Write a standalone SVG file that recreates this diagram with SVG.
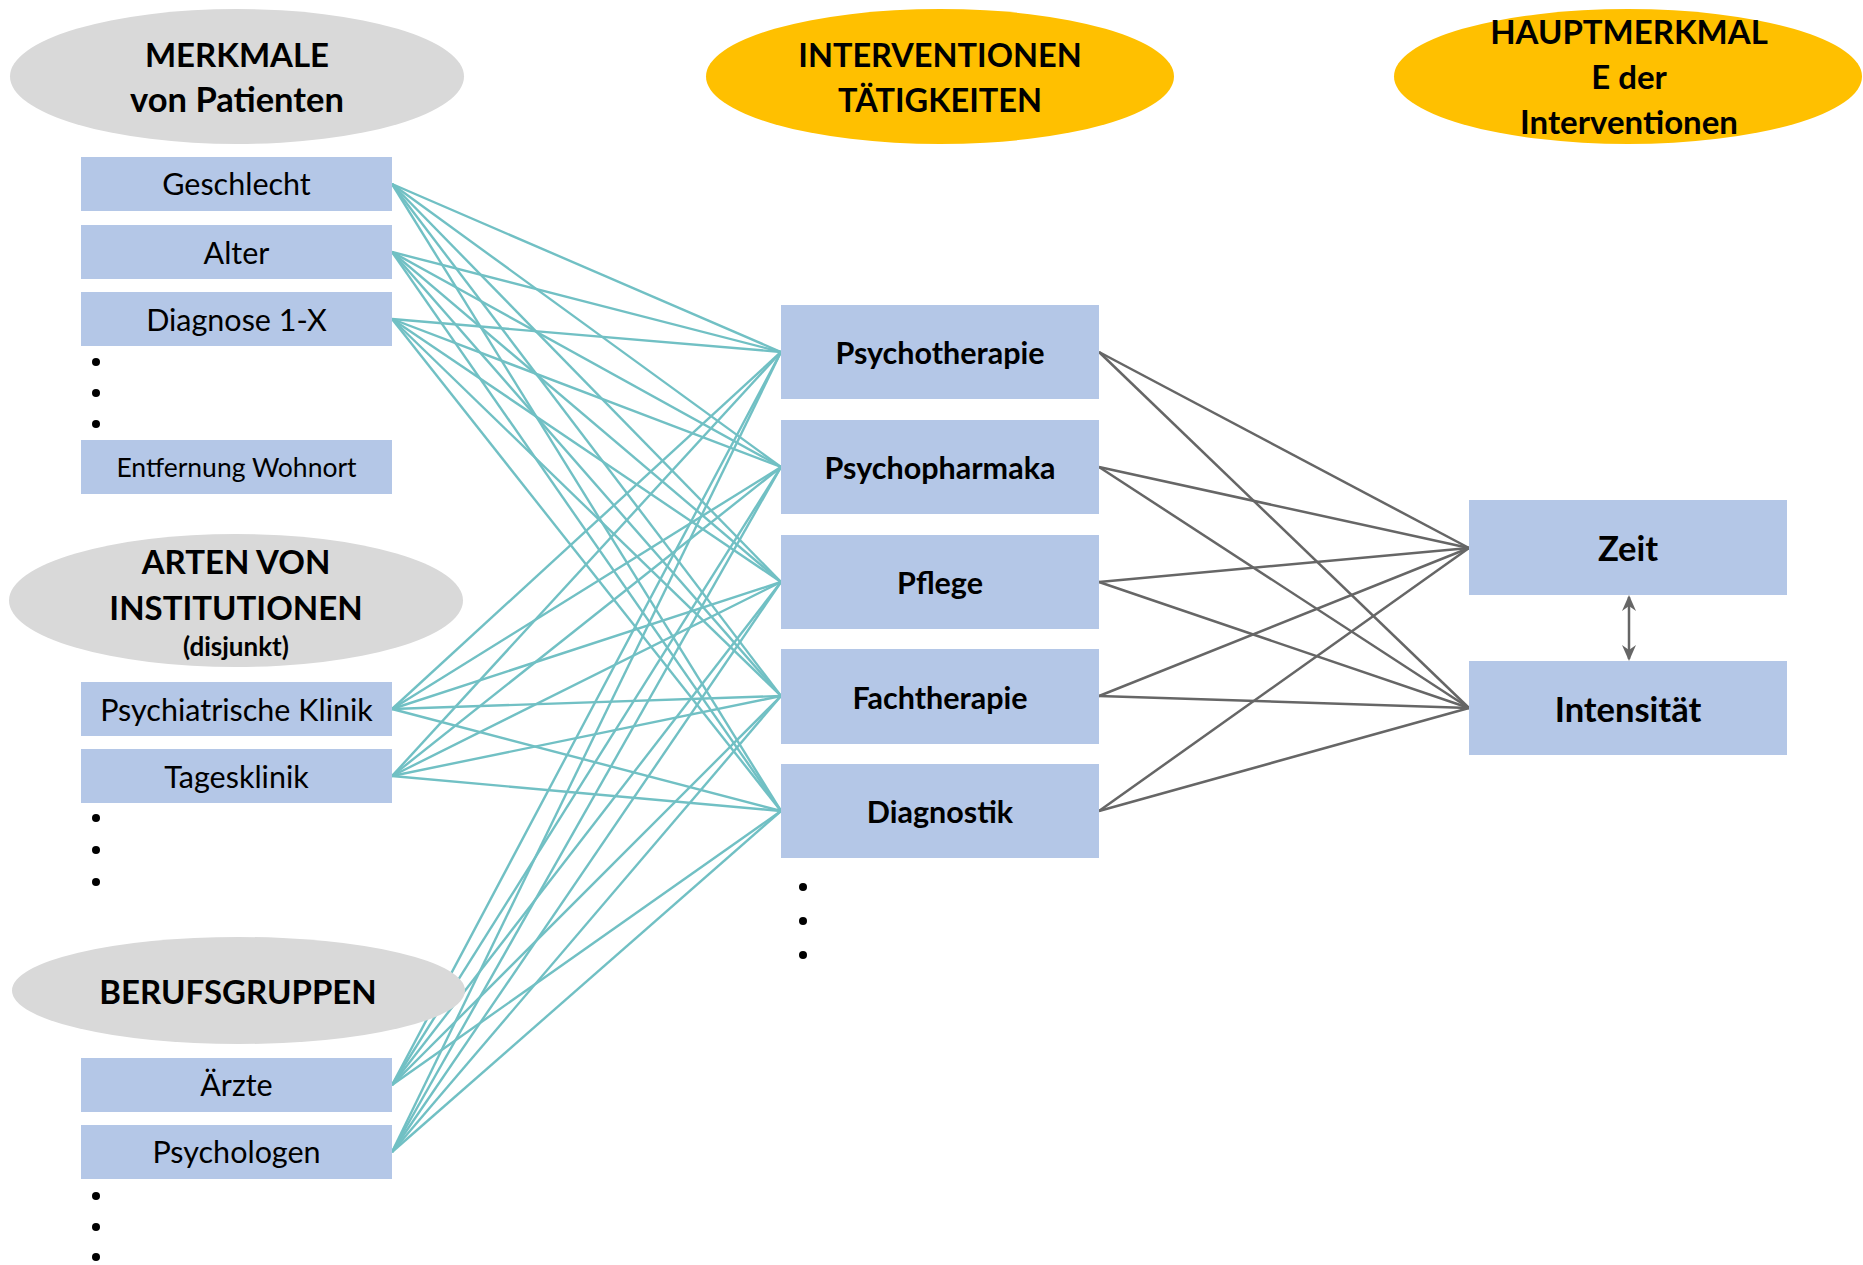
<svg xmlns="http://www.w3.org/2000/svg" width="1863" height="1265" viewBox="0 0 1863 1265">
  <defs>
    <style>
      .head-grey { fill: #D9D9D9; }
      .head-gold { fill: #FFC000; }
      .box { fill: #B4C7E7; }
      .hd { font-family: Lato, "Open Sans", sans-serif; font-weight: bold; font-size: 33px; fill: #000; text-anchor: middle; }
      .lbl { font-family: Lato, "Open Sans", sans-serif; font-size: 30.5px; fill: #000; text-anchor: middle; }
      .mid { font-family: Lato, "Open Sans", sans-serif; font-weight: bold; font-size: 30.5px; fill: #000; text-anchor: middle; }
      .big { font-family: Lato, "Open Sans", sans-serif; font-weight: bold; font-size: 34.5px; fill: #000; text-anchor: middle; }
      .dot { fill: #000; }
      .teal line { stroke: #71C0C4; stroke-width: 2.4; }
      .grey line { stroke: #666666; stroke-width: 2.5; }
    </style>
    <marker id="tip" viewBox="0 0 16 16" refX="14" refY="8" markerWidth="16" markerHeight="16" markerUnits="userSpaceOnUse" orient="auto-start-reverse">
      <path d="M0,1 L16,8 L0,15 L5,8 z" fill="#666666"/>
    </marker>
  </defs>
  <rect width="1863" height="1265" fill="#FFFFFF"/>

  <!-- connectors -->
  <g id="connectors">
    <g class="teal">
      <!-- Geschlecht -->
      <line x1="392" y1="184" x2="781" y2="352"/>
      <line x1="392" y1="184" x2="781" y2="467"/>
      <line x1="392" y1="184" x2="781" y2="582"/>
      <line x1="392" y1="184" x2="781" y2="696"/>
      <line x1="392" y1="184" x2="781" y2="811"/>
      <!-- Alter -->
      <line x1="392" y1="252" x2="781" y2="352"/>
      <line x1="392" y1="252" x2="781" y2="467"/>
      <line x1="392" y1="252" x2="781" y2="582"/>
      <line x1="392" y1="252" x2="781" y2="696"/>
      <line x1="392" y1="252" x2="781" y2="811"/>
      <!-- Diagnose 1-X -->
      <line x1="392" y1="319" x2="781" y2="352"/>
      <line x1="392" y1="319" x2="781" y2="467"/>
      <line x1="392" y1="319" x2="781" y2="582"/>
      <line x1="392" y1="319" x2="781" y2="696"/>
      <line x1="392" y1="319" x2="781" y2="811"/>
      <!-- Psychiatrische Klinik -->
      <line x1="392" y1="709" x2="781" y2="352"/>
      <line x1="392" y1="709" x2="781" y2="467"/>
      <line x1="392" y1="709" x2="781" y2="582"/>
      <line x1="392" y1="709" x2="781" y2="696"/>
      <line x1="392" y1="709" x2="781" y2="811"/>
      <!-- Tagesklinik -->
      <line x1="392" y1="776" x2="781" y2="352"/>
      <line x1="392" y1="776" x2="781" y2="467"/>
      <line x1="392" y1="776" x2="781" y2="582"/>
      <line x1="392" y1="776" x2="781" y2="696"/>
      <line x1="392" y1="776" x2="781" y2="811"/>
      <!-- Ärzte -->
      <line x1="392" y1="1085" x2="781" y2="352"/>
      <line x1="392" y1="1085" x2="781" y2="467"/>
      <line x1="392" y1="1085" x2="781" y2="582"/>
      <line x1="392" y1="1085" x2="781" y2="696"/>
      <line x1="392" y1="1085" x2="781" y2="811"/>
      <!-- Psychologen -->
      <line x1="392" y1="1152" x2="781" y2="352"/>
      <line x1="392" y1="1152" x2="781" y2="467"/>
      <line x1="392" y1="1152" x2="781" y2="582"/>
      <line x1="392" y1="1152" x2="781" y2="696"/>
      <line x1="392" y1="1152" x2="781" y2="811"/>
    </g>
    <g class="grey">
      <line x1="1099" y1="352" x2="1469" y2="548"/>
      <line x1="1099" y1="352" x2="1469" y2="708"/>
      <line x1="1099" y1="467" x2="1469" y2="548"/>
      <line x1="1099" y1="467" x2="1469" y2="708"/>
      <line x1="1099" y1="582" x2="1469" y2="548"/>
      <line x1="1099" y1="582" x2="1469" y2="708"/>
      <line x1="1099" y1="696" x2="1469" y2="548"/>
      <line x1="1099" y1="696" x2="1469" y2="708"/>
      <line x1="1099" y1="811" x2="1469" y2="548"/>
      <line x1="1099" y1="811" x2="1469" y2="708"/>
      <line x1="1629" y1="597" x2="1629" y2="659" marker-start="url(#tip)" marker-end="url(#tip)"/>
    </g>
  </g>

  <!-- column headers -->
  <g id="hdr-merkmale">
    <ellipse class="head-grey" cx="237" cy="76.5" rx="227" ry="67.5"/>
    <text class="hd" x="237" y="67">MERKMALE</text>
    <text class="hd" x="237" y="112" style="font-size:34.5px">von Patienten</text>
  </g>
  <g id="hdr-interventionen">
    <ellipse class="head-gold" cx="940" cy="76.5" rx="234" ry="67.5"/>
    <text class="hd" x="940" y="67" style="font-size:32.5px">INTERVENTIONEN</text>
    <text class="hd" x="940" y="112" style="font-size:32.5px">TÄTIGKEITEN</text>
  </g>
  <g id="hdr-hauptmerkmale">
    <ellipse class="head-gold" cx="1628" cy="76.5" rx="234" ry="67.5"/>
    <text class="hd" x="1629" y="44">HAUPTMERKMAL</text>
    <text class="hd" x="1629" y="89">E der</text>
    <text class="hd" x="1629" y="134">Interventionen</text>
  </g>
  <g id="hdr-institutionen">
    <ellipse class="head-grey" cx="236" cy="600.5" rx="227" ry="66.5"/>
    <text class="hd" x="236" y="574">ARTEN VON</text>
    <text class="hd" x="236" y="620">INSTITUTIONEN</text>
    <text class="hd" x="236" y="656" style="font-size:26px">(disjunkt)</text>
  </g>
  <g id="hdr-berufsgruppen">
    <ellipse class="head-grey" cx="238.5" cy="990.5" rx="226.5" ry="53.5"/>
    <text class="hd" x="238" y="1004">BERUFSGRUPPEN</text>
  </g>

  <!-- patient characteristics -->
  <g id="geschlecht"><rect class="box" x="81" y="157" width="311" height="54"/><text class="lbl" x="236.5" y="195">Geschlecht</text></g>
  <g id="alter"><rect class="box" x="81" y="225" width="311" height="54"/><text class="lbl" x="236.5" y="264">Alter</text></g>
  <g id="diagnose"><rect class="box" x="81" y="292" width="311" height="54"/><text class="lbl" x="236.5" y="331">Diagnose 1-X</text></g>
  <g id="entfernung"><rect class="box" x="81" y="440" width="311" height="54"/><text class="lbl" x="236.5" y="477" style="font-size:26.5px">Entfernung Wohnort</text></g>

  <!-- institution types -->
  <g id="psych-klinik"><rect class="box" x="81" y="682" width="311" height="54"/><text class="lbl" x="236.5" y="721">Psychiatrische Klinik</text></g>
  <g id="tagesklinik"><rect class="box" x="81" y="749" width="311" height="54"/><text class="lbl" x="236.5" y="788">Tagesklinik</text></g>

  <!-- professional groups -->
  <g id="aerzte"><rect class="box" x="81" y="1058" width="311" height="54"/><text class="lbl" x="236.5" y="1096">Ärzte</text></g>
  <g id="psychologen"><rect class="box" x="81" y="1125" width="311" height="54"/><text class="lbl" x="236.5" y="1163">Psychologen</text></g>

  <!-- interventions -->
  <g id="psychotherapie"><rect class="box" x="781" y="305" width="318" height="94"/><text class="mid" x="940" y="364">Psychotherapie</text></g>
  <g id="psychopharmaka"><rect class="box" x="781" y="420" width="318" height="94"/><text class="mid" x="940" y="479">Psychopharmaka</text></g>
  <g id="pflege"><rect class="box" x="781" y="535" width="318" height="94"/><text class="mid" x="940" y="594">Pflege</text></g>
  <g id="fachtherapie"><rect class="box" x="781" y="649" width="318" height="95"/><text class="mid" x="940" y="709">Fachtherapie</text></g>
  <g id="diagnostik"><rect class="box" x="781" y="764" width="318" height="94"/><text class="mid" x="940" y="823">Diagnostik</text></g>

  <!-- main characteristics -->
  <g id="zeit"><rect class="box" x="1469" y="500" width="318" height="95"/><text class="big" x="1628" y="561">Zeit</text></g>
  <g id="intensitaet"><rect class="box" x="1469" y="661" width="318" height="94"/><text class="big" x="1628" y="722">Intensität</text></g>

  <!-- continuation dots -->
  <g id="more-patient">
    <circle class="dot" cx="96" cy="362" r="4"/><circle class="dot" cx="96" cy="393" r="4"/><circle class="dot" cx="96" cy="424" r="4"/>
  </g>
  <g id="more-institution">
    <circle class="dot" cx="96" cy="818" r="4"/><circle class="dot" cx="96" cy="850" r="4"/><circle class="dot" cx="96" cy="882" r="4"/>
  </g>
  <g id="more-profession">
    <circle class="dot" cx="96" cy="1196" r="4"/><circle class="dot" cx="96" cy="1227" r="4"/><circle class="dot" cx="96" cy="1257" r="4"/>
  </g>
  <g id="more-intervention">
    <circle class="dot" cx="803" cy="887" r="4"/><circle class="dot" cx="803" cy="921" r="4"/><circle class="dot" cx="803" cy="955" r="4"/>
  </g>
</svg>
